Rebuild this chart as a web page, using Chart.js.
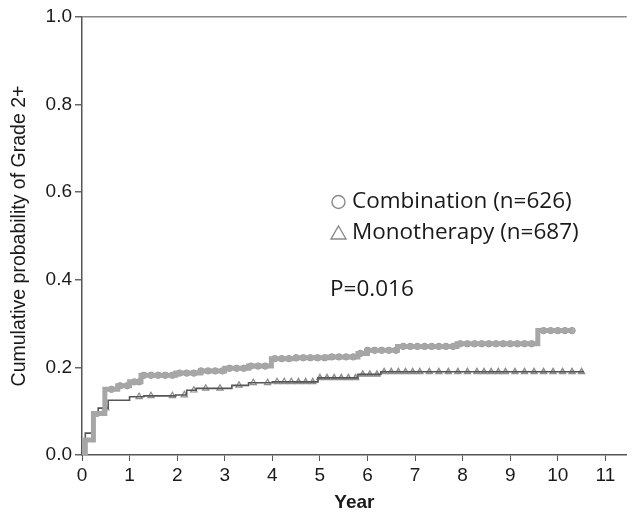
<!DOCTYPE html>
<html>
<head>
<meta charset="utf-8">
<script src="https://cdn.jsdelivr.net/npm/chart.js@4"></script>
<style>
  html, body { margin: 0; padding: 0; background: #fff; }
  #wrap { width: 632px; height: 514px; }
</style>
</head>
<body>
<div id="wrap"><canvas id="km"></canvas></div>
<script>
// step curves (year, cumulative probability)
const combYears = [0, 0.07, 0.24, 0.48, 0.75, 1.0, 1.24, 1.97, 2.5, 3.0, 3.5, 3.98, 4.5, 5.17, 5.8, 6.0, 6.63, 7.88, 9.58, 10.3];
const combProb  = [0, 0.034, 0.095, 0.15, 0.158, 0.167, 0.182, 0.187, 0.192, 0.198, 0.203, 0.22, 0.222, 0.224, 0.232, 0.239, 0.248, 0.254, 0.284, 0.284];
const monoYears = [0, 0.07, 0.24, 0.34, 0.55, 1.0, 1.3, 1.97, 2.2, 2.4, 3.15, 3.5, 4.0, 4.96, 5.8, 6.28, 10.55];
const monoProb  = [0, 0.05, 0.09, 0.107, 0.125, 0.133, 0.135, 0.137, 0.148, 0.152, 0.159, 0.165, 0.167, 0.176, 0.184, 0.19, 0.19];

// censoring marks (years)
const combCensor = [0.62, 0.8, 0.95, 1.1, 1.2, 1.3, 1.45, 1.6, 1.75, 1.9, 2.05, 2.2, 2.35, 2.5, 2.65, 2.8, 2.95, 3.1, 3.25, 3.4, 3.55, 3.7, 3.85,
  4.05, 4.2, 4.35, 4.5, 4.65, 4.8, 4.95, 5.1, 5.25, 5.4, 5.55, 5.7, 5.85, 6.0, 6.15, 6.3, 6.45, 6.6, 6.75, 6.9, 7.05, 7.2, 7.35, 7.5,
  7.65, 7.8, 7.95, 8.1, 8.25, 8.4, 8.55, 8.7, 8.85, 9.0, 9.15, 9.3, 9.45, 9.7, 9.85, 10.0, 10.15, 10.3];
const monoCensor = [0.5, 1.2, 1.45, 1.9, 2.15, 2.35, 2.6, 2.9, 3.3, 3.6, 3.9, 4.1, 4.25, 4.4, 4.55, 4.7, 4.85, 5.0, 5.15, 5.3, 5.45, 5.6,
  5.75, 5.9, 6.05, 6.2, 6.35, 6.5, 6.65, 6.8, 6.95, 7.1, 7.3, 7.5, 7.7, 7.9, 8.1, 8.3, 8.45, 8.6, 8.75, 8.9, 9.1, 9.3, 9.5, 9.7,
  9.9, 10.1, 10.3, 10.5];

const xTicks = [0, 1, 2, 3, 4, 5, 6, 7, 8, 9, 10, 11];
const yTicks = [0, 0.2, 0.4, 0.6, 0.8, 1.0];

const seriesNames = ["Combination (n=626)", "Monotherapy (n=687)"];
const pText = "P=0.016";

function stepAt(years, probs, t) {
  let v = probs[0];
  for (let i = 0; i < years.length; i++) if (years[i] <= t) v = probs[i];
  return v;
}

const combLine = combYears.map((x, i) => ({ x: x, y: combProb[i] }));
const monoLine = monoYears.map((x, i) => ({ x: x, y: monoProb[i] }));
const combMarks = combCensor.map(t => ({ x: t, y: stepAt(combYears, combProb, t) }));
const monoMarks = monoCensor.map(t => ({ x: t, y: stepAt(monoYears, monoProb, t) }));

const axisFont = "Arial, 'Liberation Sans', sans-serif";

// legend + p value written inside the plot
const notes = {
  id: "notes",
  afterDraw(chart) {
    const c = chart.ctx;
    c.save();
    c.fillStyle = "#1a1a1a";
    c.strokeStyle = "#8a8a8a";
    c.lineWidth = 1.4;
    c.font = '22.5px "Open Sans", sans-serif';
    c.textBaseline = "middle";
    c.beginPath();
    c.arc(338.5, 202, 6.5, 0, Math.PI * 2);
    c.stroke();
    c.fillText(seriesNames[0], 352, 202);
    c.beginPath();
    c.moveTo(338.5, 226);
    c.lineTo(346, 239);
    c.lineTo(331, 239);
    c.closePath();
    c.stroke();
    c.fillText(seriesNames[1], 352, 233);
    c.fillText(pText, 330, 290);
    c.restore();
  }
};

new Chart(document.getElementById("km"), {
  type: "scatter",
  data: {
    datasets: [
      { data: combLine, showLine: true, stepped: true, borderColor: "#a6a6a6", borderWidth: 5, pointRadius: 0 },
      { data: monoLine, showLine: true, stepped: true, borderColor: ctx => "#555", borderWidth: 1.6, pointRadius: 0 },
      { data: combMarks, pointStyle: "circle", pointRadius: 3.2, borderColor: "#999", backgroundColor: "#b0b0b0", borderWidth: 1 },
      {
        data: monoMarks, pointStyle: "triangle", pointRadius: 3.6,
        borderColor: "#8c8c8c",
        backgroundColor: ctx => (ctx.raw && ctx.raw.x > 4.4 ? "#b8b8b8" : "#fafafa"),
        borderWidth: 1.2
      }
    ]
  },
  options: {
    responsive: true,
    maintainAspectRatio: false,
    animation: false,
    layout: { padding: { top: 17, left: 0, right: 0, bottom: 0 } },
    plugins: { legend: { display: false }, tooltip: { enabled: false } },
    scales: {
      x: {
        type: "linear",
        min: 0,
        max: 11.45,
        afterBuildTicks: s => { s.ticks = xTicks.map(v => ({ value: v })); },
        afterFit: s => { s.height = 59; },
        ticks: { includeBounds: false, color: "#1a1a1a", font: { family: axisFont, size: 19 }, padding: 3, maxRotation: 0 },
        grid: { drawOnChartArea: false, drawTicks: true, tickLength: 6, tickColor: "#555" },
        border: { display: true, color: "#555", width: 1.5 },
        title: { display: true, text: "Year", color: "#1a1a1a", font: { family: axisFont, size: 19, weight: "bold" }, padding: { top: 0, bottom: 0 } }
      },
      y: {
        min: 0,
        max: 1,
        afterBuildTicks: s => { s.ticks = yTicks.map(v => ({ value: v })); },
        afterFit: s => { s.width = 82; },
        ticks: { color: "#1a1a1a", font: { family: axisFont, size: 19 }, padding: 3, callback: v => v.toFixed(1) },
        grid: {
          drawTicks: true,
          tickLength: 7,
          tickColor: "#666",
          color: ctx => (ctx.tick && ctx.tick.value === 1 ? "#888" : "rgba(0,0,0,0)"),
          lineWidth: 1.5
        },
        border: { display: true, color: "#555", width: 1.5 },
        title: { display: true, text: "Cumulative probability of Grade 2+", color: "#1a1a1a", font: { family: axisFont, size: 19.5 }, padding: { top: 8, bottom: 0 } }
      }
    }
  },
  plugins: [notes]
});
</script>
</body>
</html>
